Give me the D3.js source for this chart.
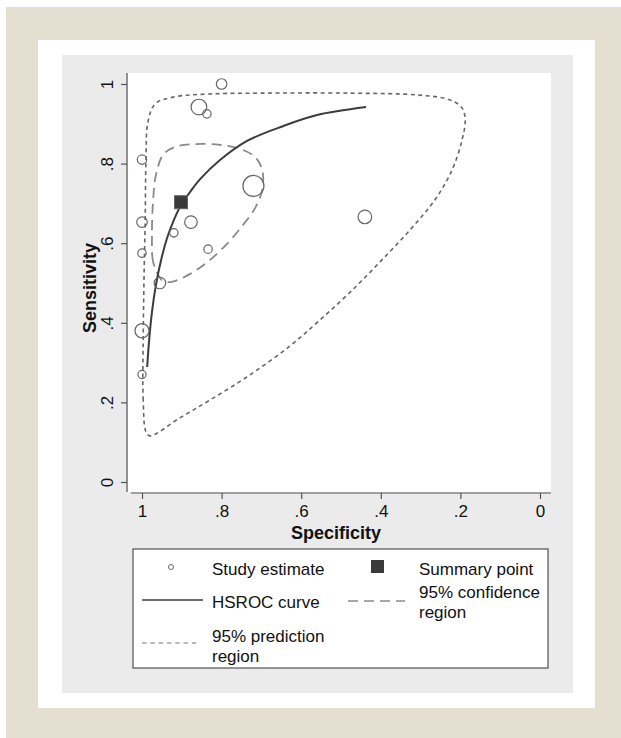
<!DOCTYPE html>
<html>
<head>
<meta charset="utf-8">
<script src="https://cdn.jsdelivr.net/npm/d3@7/dist/d3.min.js"></script>
<style>
  body { margin: 0; background: #fff; }
  svg { display: block; font-family: "Liberation Sans", Arial, sans-serif; }
</style>
</head>
<body>
<script>
  // study estimates (specificity, sensitivity, relative weight)
  var studySpec = [0.80, 0.857, 0.837, 1.0, 0.72, 1.0, 0.877, 0.92, 1.0, 0.834, 0.955, 0.44, 1.0, 1.0];
  var studySens = [1.0, 0.942, 0.925, 0.81, 0.744, 0.653, 0.653, 0.626, 0.575, 0.585, 0.50, 0.666, 0.38, 0.27];
  var studyWeight = [25, 56, 16, 20, 100, 25, 36, 16, 16, 16, 30, 42, 45, 15];

  // summary point
  var summarySpec = 0.902;
  var summarySens = 0.703;

  // HSROC curve
  var curveSpec = [0.987, 0.982, 0.975, 0.965, 0.952, 0.937, 0.920, 0.902, 0.879, 0.854, 0.804, 0.736, 0.646, 0.560, 0.437];
  var curveSens = [0.289, 0.357, 0.427, 0.495, 0.558, 0.613, 0.658, 0.696, 0.729, 0.761, 0.809, 0.857, 0.894, 0.922, 0.942];

  // 95% confidence region
  var confSpec = [0.955, 0.972, 0.975, 0.972, 0.965, 0.947, 0.917, 0.867, 0.804, 0.754, 0.716, 0.698, 0.698, 0.716, 0.746, 0.784, 0.829, 0.879, 0.925, 0.947];
  var confSens = [0.513, 0.553, 0.621, 0.709, 0.771, 0.822, 0.842, 0.849, 0.847, 0.837, 0.817, 0.784, 0.734, 0.688, 0.646, 0.601, 0.558, 0.523, 0.503, 0.505];

  // 95% prediction region
  var predSpec = [0.990, 0.997, 0.997, 0.995, 0.992, 0.990, 0.985, 0.967, 0.922, 0.829, 0.704, 0.477, 0.302, 0.226, 0.196, 0.188, 0.196, 0.221, 0.264, 0.327, 0.402, 0.477, 0.553, 0.628, 0.729, 0.829, 0.905, 0.980];
  var predSens = [0.126, 0.206, 0.357, 0.508, 0.658, 0.809, 0.905, 0.950, 0.967, 0.975, 0.977, 0.977, 0.972, 0.960, 0.940, 0.910, 0.859, 0.784, 0.709, 0.633, 0.553, 0.477, 0.407, 0.342, 0.269, 0.206, 0.161, 0.116];

  var tickValues = [1, 0.8, 0.6, 0.4, 0.2, 0];
  var tickLabels = ["1", ".8", ".6", ".4", ".2", "0"];

  var width = 621;
  var height = 738;

  var svg = d3.select("body")
              .append("svg")
              .attr("width", width)
              .attr("height", height);

  // page frames
  svg.append("rect").attr("x", 6).attr("y", 7).attr("width", 615).attr("height", 731).attr("fill", "#e5dfd2");
  svg.append("rect").attr("x", 38).attr("y", 40).attr("width", 557).attr("height", 668).attr("fill", "#ffffff");
  svg.append("rect").attr("x", 62).attr("y", 55).attr("width", 511).attr("height", 638).attr("fill", "#ebebeb");

  // plot region
  var plotLeft = 128, plotRight = 551, plotTop = 73, plotBottom = 492;
  svg.append("rect")
     .attr("x", plotLeft).attr("y", plotTop)
     .attr("width", plotRight - plotLeft).attr("height", plotBottom - plotTop)
     .attr("fill", "#ffffff");

  var xScale = d3.scaleLinear().domain([1, 0]).range([142, 540]);
  var yScale = d3.scaleLinear().domain([0, 1]).range([482, 84]);

  // axes
  var xAxis = d3.axisBottom(xScale)
                .tickValues(tickValues)
                .tickFormat(function(d, i){ return tickLabels[i]; })
                .tickSize(6)
                .tickPadding(6);
  var gx = svg.append("g")
              .attr("transform", "translate(0," + (plotBottom + 1) + ")")
              .call(xAxis);
  gx.select(".domain").remove();
  gx.append("line")
    .attr("x1", plotLeft + 3).attr("x2", plotRight)
    .attr("y1", 0).attr("y2", 0)
    .attr("stroke", "#555").attr("stroke-width", 1.2);
  gx.selectAll(".tick line").attr("stroke", "#555").attr("stroke-width", 1.2);
  gx.selectAll(".tick text")
    .attr("fill", "#111")
    .attr("font-size", 17)
    .style("font-size", "17px");

  var yAxis = d3.axisLeft(yScale)
                .tickValues(tickValues)
                .tickFormat(function(d, i){ return tickLabels[i]; })
                .tickSize(6);
  var gy = svg.append("g")
              .attr("transform", "translate(" + (plotLeft - 1) + ",0)")
              .call(yAxis);
  gy.select(".domain").remove();
  gy.append("line")
    .attr("x1", 0).attr("x2", 0)
    .attr("y1", plotTop).attr("y2", plotBottom)
    .attr("stroke", "#555").attr("stroke-width", 1.2);
  gy.selectAll(".tick line").attr("stroke", "#555").attr("stroke-width", 1.2);
  gy.selectAll(".tick text")
    .attr("x", 0).attr("dy", 0)
    .attr("transform", "translate(-14,0) rotate(-90)")
    .attr("text-anchor", "middle")
    .attr("fill", "#111")
    .attr("font-size", 17)
    .style("font-size", "17px");

  // axis titles
  svg.append("text")
     .attr("x", 336)
     .attr("y", 539)
     .attr("text-anchor", "middle")
     .style("font-size", "18px").style("font-weight", "bold")
     .attr("fill", "#111")
     .text("Specificity");

  svg.append("text")
     .attr("transform", "translate(96,288) rotate(-90)")
     .attr("text-anchor", "middle")
     .style("font-size", "18px").style("font-weight", "bold")
     .attr("fill", "#111")
     .text("Sensitivity");

  var line = d3.line()
               .x(function(d){ return xScale(d[0]); })
               .y(function(d){ return yScale(d[1]); });

  // prediction region
  svg.append("path")
     .datum(d3.zip(predSpec, predSens))
     .attr("d", line.curve(d3.curveCatmullRomClosed.alpha(0.5)))
     .attr("fill", "none")
     .attr("stroke", "#666")
     .attr("stroke-width", 1.6)
     .attr("stroke-dasharray", "4,3.5");

  // confidence region
  svg.append("path")
     .datum(d3.zip(confSpec, confSens))
     .attr("d", line.curve(d3.curveCatmullRomClosed.alpha(0.5)))
     .attr("fill", "none")
     .attr("stroke", "#8a8a8a")
     .attr("stroke-width", 1.8)
     .attr("stroke-dasharray", "10,6");

  // HSROC curve
  svg.append("path")
     .datum(d3.zip(curveSpec, curveSens))
     .attr("d", line.curve(d3.curveCatmullRom.alpha(0.5)))
     .attr("fill", "none")
     .attr("stroke", "#3c3c3c")
     .attr("stroke-width", 2);

  // study estimates
  var rScale = d3.scaleSqrt().domain([0, 100]).range([0, 10.5]);
  var studies = d3.range(studySpec.length).map(function(i){
    return { spec: studySpec[i], sens: studySens[i], w: studyWeight[i] };
  });
  svg.selectAll("circle.study")
     .data(studies)
     .enter()
     .append("circle")
     .attr("class", "study")
     .attr("cx", function(d){ return xScale(d.spec); })
     .attr("cy", function(d){ return yScale(d.sens); })
     .attr("r", function(d){ return rScale(d.w); })
     .attr("fill", "none")
     .attr("stroke", "#666")
     .attr("stroke-width", 1.2);

  // summary point
  var sq = 13;
  svg.append("rect")
     .attr("x", xScale(summarySpec) - sq / 2)
     .attr("y", yScale(summarySens) - sq / 2)
     .attr("width", sq).attr("height", sq)
     .attr("fill", "#3a3a3a")
     .attr("stroke", "#666")
     .attr("stroke-width", 1);

  // legend
  var legend = svg.append("g");
  legend.append("rect")
        .attr("x", 133).attr("y", 549)
        .attr("width", 415).attr("height", 119)
        .attr("fill", "#ffffff")
        .attr("stroke", "#333").attr("stroke-width", 1);

  var legendFont = 17;
  var legendLead = 19.5;
  function legendText(x, y, lines) {
    lines.forEach(function(s, i){
      legend.append("text")
            .attr("x", x).attr("y", y + i * legendLead)
            .style("font-size", legendFont + "px")
            .attr("fill", "#111")
            .text(s);
    });
  }

  legend.append("circle").attr("cx", 171).attr("cy", 567).attr("r", 2.5)
        .attr("fill", "none").attr("stroke", "#666").attr("stroke-width", 1);
  legendText(212, 575, ["Study estimate"]);

  legend.append("rect").attr("x", 371).attr("y", 560).attr("width", 13).attr("height", 13)
        .attr("fill", "#3a3a3a");
  legendText(419, 575, ["Summary point"]);

  legend.append("line").attr("x1", 142).attr("x2", 203).attr("y1", 600).attr("y2", 600)
        .attr("stroke", "#3c3c3c").attr("stroke-width", 1.6);
  legendText(212, 608, ["HSROC curve"]);

  legend.append("line").attr("x1", 348).attr("x2", 405).attr("y1", 601).attr("y2", 601)
        .attr("stroke", "#8a8a8a").attr("stroke-width", 1.6).attr("stroke-dasharray", "10,6");
  legendText(419, 598, ["95% confidence", "region"]);

  legend.append("line").attr("x1", 142).attr("x2", 200).attr("y1", 643).attr("y2", 643)
        .attr("stroke", "#777").attr("stroke-width", 1.2).attr("stroke-dasharray", "4.5,3.8");
  legendText(212, 642, ["95% prediction", "region"]);
</script>
</body>
</html>
